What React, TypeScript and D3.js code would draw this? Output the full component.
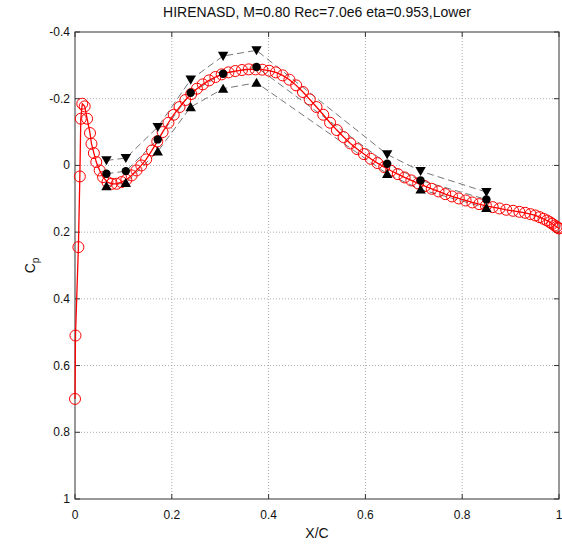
import React from "react";
import * as d3 from "d3";

const cfdX = [0.000, 0.001, 0.007, 0.010, 0.012, 0.015, 0.020, 0.025, 0.031, 0.034, 0.039, 0.044, 0.051, 0.058, 0.067, 0.076, 0.086, 0.096, 0.106, 0.117, 0.127, 0.137, 0.147, 0.159, 0.170, 0.181, 0.193, 0.204, 0.216, 0.228, 0.240, 0.252, 0.264, 0.277, 0.290, 0.303, 0.317, 0.331, 0.345, 0.359, 0.373, 0.387, 0.401, 0.415, 0.429, 0.443, 0.457, 0.471, 0.485, 0.499, 0.513, 0.527, 0.541, 0.555, 0.569, 0.583, 0.597, 0.611, 0.625, 0.639, 0.653, 0.667, 0.681, 0.695, 0.709, 0.723, 0.737, 0.751, 0.765, 0.779, 0.793, 0.807, 0.821, 0.835, 0.849, 0.863, 0.877, 0.891, 0.905, 0.918, 0.930, 0.941, 0.951, 0.960, 0.968, 0.975, 0.981, 0.986, 0.991, 0.995, 0.998, 1.000];
const cfdCp = [0.70, 0.51, 0.245, 0.033, -0.14, -0.185, -0.177, -0.14, -0.097, -0.065, -0.037, -0.01, 0.015, 0.035, 0.05, 0.055, 0.055, 0.05, 0.043, 0.03, 0.015, 0.0, -0.018, -0.045, -0.072, -0.1, -0.128, -0.152, -0.175, -0.196, -0.214, -0.23, -0.243, -0.255, -0.265, -0.273, -0.279, -0.283, -0.286, -0.288, -0.288, -0.287, -0.284, -0.279, -0.27, -0.257, -0.24, -0.22, -0.198, -0.175, -0.152, -0.128, -0.106, -0.085, -0.066, -0.049, -0.034, -0.02, -0.007, 0.005, 0.016, 0.026, 0.036, 0.045, 0.054, 0.062, 0.07, 0.078, 0.086, 0.093, 0.099, 0.105, 0.111, 0.116, 0.121, 0.125, 0.129, 0.133, 0.136, 0.139, 0.142, 0.146, 0.15, 0.155, 0.16, 0.165, 0.17, 0.175, 0.18, 0.184, 0.187, 0.189];

const expX = [0.065, 0.105, 0.171, 0.239, 0.306, 0.375, 0.645, 0.714, 0.85];
const expMean = [0.025, 0.017, -0.078, -0.218, -0.275, -0.295, -0.005, 0.045, 0.102];
const expMin = [-0.015, -0.022, -0.115, -0.257, -0.328, -0.345, -0.033, 0.017, 0.08];
const expMax = [0.062, 0.052, -0.042, -0.175, -0.23, -0.248, 0.025, 0.072, 0.127];

const xTicks = [0, 0.2, 0.4, 0.6, 0.8, 1];
const yTicks = [-0.4, -0.2, 0, 0.2, 0.4, 0.6, 0.8, 1];

const titleText = "HIRENASD, M=0.80 Rec=7.0e6 eta=0.953,Lower";

const W = 562, H = 544;
const L = 75, R = 559, T = 32, B = 499;
const FONT = "'Liberation Sans', Arial, Helvetica, sans-serif";

export default function App() {
  const x = d3.scaleLinear().domain([0, 1]).range([L, R]);
  const y = d3.scaleLinear().domain([-0.4, 1]).range([T, B]);
  const line = d3.line<[number, number]>().x(d => x(d[0])).y(d => y(d[1]));
  const cfd: [number, number][] = cfdX.map((v, i) => [v, cfdCp[i]]);
  const mk = (arr: number[]) => expX.map((v, i) => [v, arr[i]] as [number, number]);
  const tri = (cx: number, cy: number, down: boolean) => {
    const s = 5.2;
    return down
      ? `M${cx - s},${cy - s * 0.8}L${cx + s},${cy - s * 0.8}L${cx},${cy + s * 0.95}Z`
      : `M${cx - s},${cy + s * 0.8}L${cx + s},${cy + s * 0.8}L${cx},${cy - s * 0.95}Z`;
  };
  const fmt = (v: number) => (v === 0 ? "0" : v === 1 ? "1" : String(v));
  return (
    <svg width={W} height={H} style={{ position: "absolute", left: 0, top: 0, background: "#fff" }}>
      <rect x={0} y={0} width={W} height={H} fill="#fff" />
      {xTicks.slice(1, -1).map(t => (
        <line key={"gx" + t} x1={x(t)} x2={x(t)} y1={T} y2={B} stroke="#aaa" strokeWidth={1} strokeDasharray="1,2" />
      ))}
      {yTicks.slice(1, -1).map(t => (
        <line key={"gy" + t} x1={L} x2={R} y1={y(t)} y2={y(t)} stroke="#aaa" strokeWidth={1} strokeDasharray="1,2" />
      ))}
      {xTicks.map(t => (
        <g key={"tx" + t}>
          <line x1={x(t)} x2={x(t)} y1={B} y2={B - 5} stroke="#333" />
          <line x1={x(t)} x2={x(t)} y1={T} y2={T + 5} stroke="#333" />
          <text x={x(t)} y={B + 20} textAnchor="middle" fontSize={12} fontFamily={FONT} fill="#111">{fmt(t)}</text>
        </g>
      ))}
      {yTicks.map(t => (
        <g key={"ty" + t}>
          <line x1={L} x2={L + 5} y1={y(t)} y2={y(t)} stroke="#333" />
          <line x1={R} x2={R - 5} y1={y(t)} y2={y(t)} stroke="#333" />
          <text x={L - 5} y={y(t) + 4} textAnchor="end" fontSize={12} fontFamily={FONT} fill="#111">{fmt(t)}</text>
        </g>
      ))}
      {[expMin, expMean, expMax].map((arr, i) => (
        <path key={"el" + i} d={line(mk(arr)) || ""} fill="none" stroke="#777" strokeWidth={1} strokeDasharray="7,4" />
      ))}
      <rect x={L} y={T} width={R - L} height={B - T} fill="none" stroke="#333" strokeWidth={1} />
      <path d={line(cfd) || ""} fill="none" stroke="#ff0000" strokeWidth={1.3} />
      {cfd.map((d, i) => (
        <circle key={"c" + i} cx={x(d[0])} cy={y(d[1])} r={5.5} fill="none" stroke="#ff0000" strokeWidth={1} />
      ))}
      {mk(expMean).map((d, i) => (
        <circle key={"m" + i} cx={x(d[0])} cy={y(d[1])} r={4.2} fill="#000" />
      ))}
      {mk(expMin).map((d, i) => (
        <path key={"dn" + i} d={tri(x(d[0]), y(d[1]), true)} fill="#000" />
      ))}
      {mk(expMax).map((d, i) => (
        <path key={"up" + i} d={tri(x(d[0]), y(d[1]), false)} fill="#000" />
      ))}
      <text x={(L + R) / 2} y={17} textAnchor="middle" fontSize={14} fontFamily={FONT} fill="#111">{titleText}</text>
      <text x={(L + R) / 2} y={538} textAnchor="middle" fontSize={14} fontFamily={FONT} fill="#111">X/C</text>
      <text transform={`translate(35,${(T + B) / 2}) rotate(-90)`} textAnchor="middle" fontSize={14} fontFamily={FONT} fill="#111">
        C<tspan fontSize={10} dy={4}>p</tspan>
      </text>
    </svg>
  );
}
